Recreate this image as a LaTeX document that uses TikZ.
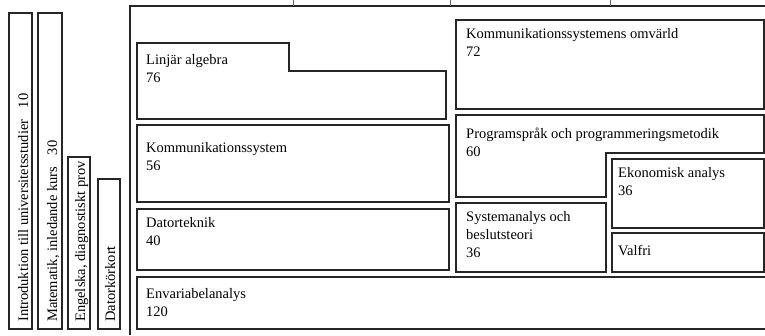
\documentclass[tikz,border=0pt]{standalone}
\usepackage{fontspec}
\setmainfont{Liberation Serif}
\usetikzlibrary{positioning}

\tikzset{
  kurs/.style={draw=black!85, line width=1.8pt},
  streck/.style={draw=black!60, line width=0.8pt},
  etikett/.style={anchor=north west, inner sep=0pt, align=left,
    font=\fontsize{14.5}{18}\selectfont, execute at begin node=\strut},
  staende/.style={anchor=base west, inner sep=0pt,
    font=\fontsize{14.5}{18}\selectfont, rotate=90}
}

\begin{document}
\begin{tikzpicture}[x=1pt, y=-1pt]
    \useasboundingbox (0,0) rectangle (765,335);
    \clip (0,0) rectangle (765,335);

    % Outer frame and ticks
    \draw[kurs] (130,335) -- (130,6) -- (770,6);
    \foreach \tx in {293, 450, 610}
        \draw[streck] (\tx,0) -- (\tx,6);

    % Standing courses on the left
    \draw[kurs] (9,13) rectangle (32,329);
    \draw[kurs] (38,13) rectangle (62,329);
    \draw[kurs] (68,157) rectangle (90,329);
    \draw[kurs] (98,179) rectangle (120,329);
    \node[staende] (intro) at (28,322) {Introduktion till universitetsstudier\hspace{0.8em}10};
    \node[staende] (matte) at (57,322) {Matematik, inledande kurs\hspace{0.8em}30};
    \node[staende] (engelska) at (85,322) {Engelska, diagnostiskt prov};
    \node[staende] (korkort) at (115,322) {Datorkörkort};

    % Left column
    \draw[kurs] (137,43) -- (289,43) -- (289,71) -- (446,71) -- (446,119) -- (137,119) -- cycle;
    \node[etikett] (linalg) at (146,54) {Linjär algebra\\76};

    \draw[kurs] (137,125) rectangle (449,202);
    \node[etikett] (komsys) at (146,142) {Kommunikationssystem\\56};

    \draw[kurs] (137,209) rectangle (449,270);
    \node[etikett] (dator) at (146,217) {Datorteknik\\40};

    \draw[kurs] (137,277) rectangle (775,329);
    \node[etikett] (envar) at (146,288) {Envariabelanalys\\120};

    % Right column
    \draw[kurs] (456,20) rectangle (764,109);
    \node[etikett] (omvarld) at (466,28) {Kommunikationssystemens omvärld\\72};

    \draw[kurs] (456,115) -- (764,115) -- (764,153) -- (606,153) -- (606,197) -- (456,197) -- cycle;
    \node[etikett] (prog) at (466,128) {Programspråk och programmeringsmetodik\\60};

    \draw[kurs] (612,159) rectangle (764,228);
    \node[etikett] (ekon) at (618,167) {Ekonomisk analys\\36};

    \draw[kurs] (456,203) rectangle (606,272);
    \node[etikett] (sysanal) at (466,211) {Systemanalys och\\beslutsteori\\36};

    \draw[kurs] (612,233) rectangle (764,272);
    \node[etikett] (valfri) at (618,243) {Valfri};
\end{tikzpicture}
\end{document}
